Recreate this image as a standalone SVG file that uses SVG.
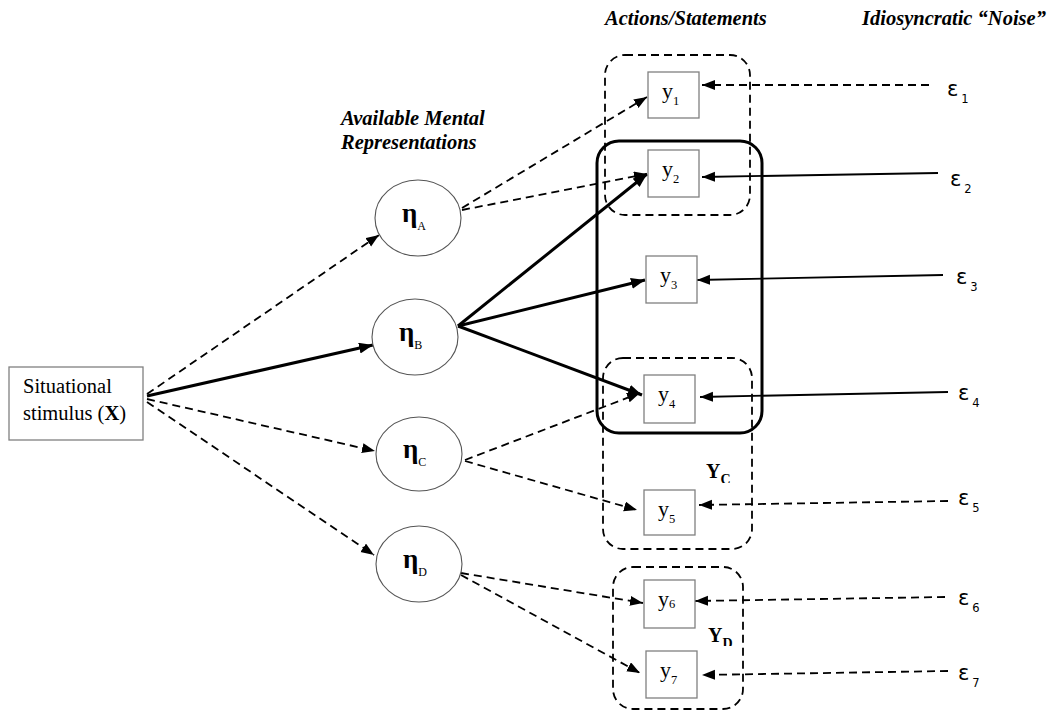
<svg xmlns="http://www.w3.org/2000/svg" width="1056" height="713" viewBox="0 0 1056 713">
  <style>
    .serif { font-family: "Liberation Serif", "Times New Roman", serif; fill: #000; }
    .head { font-family: "Liberation Serif", "Times New Roman", serif; font-weight: bold; font-style: italic; font-size: 20.5px; }
    .eta { font-family: "Liberation Serif", serif; font-weight: bold; font-size: 27px; }
    .sub { font-family: "Liberation Serif", serif; font-weight: normal; font-size: 12px; }
    .ylab { font-family: "Liberation Serif", serif; font-size: 22px; }
    .ysub { font-size: 12.5px; }
    .eps { font-family: "DejaVu Sans", "Liberation Sans", sans-serif; font-size: 21px; }
    .epsub { font-size: 11.5px; }
    .box { fill: #fff; stroke: #808080; stroke-width: 1.3; }
    .circ { fill: #fff; stroke: #555; stroke-width: 1.1; }
    .grp { fill: none; stroke: #000; stroke-width: 1.8; stroke-dasharray: 8 5; }
    .grpB { fill: none; stroke: #000; stroke-width: 3; }
    .dash { fill: none; stroke: #000; stroke-width: 1.8; stroke-dasharray: 8 5; marker-end: url(#arr); }
    .bold { fill: none; stroke: #000; stroke-width: 3; marker-end: url(#arrB); }
    .thin { fill: none; stroke: #000; stroke-width: 1.8; marker-end: url(#arr); }
  </style>
  <defs>
    <marker id="arr" markerUnits="userSpaceOnUse" markerWidth="14" markerHeight="12" refX="13" refY="5" orient="auto">
      <path d="M0,0 L13,5 L0,10 z" fill="#000"/>
    </marker>
    <marker id="arrB" markerUnits="userSpaceOnUse" markerWidth="15" markerHeight="12" refX="14" refY="5.5" orient="auto">
      <path d="M0,0 L14,5.5 L0,11 z" fill="#000"/>
    </marker>
    <clipPath id="cutC"><rect x="690" y="455" width="50" height="28"/></clipPath>
    <clipPath id="cutD"><rect x="690" y="620" width="50" height="26"/></clipPath>
  </defs>

  <rect width="1056" height="713" fill="#fff"/>

  <!-- column headings -->
  <text class="head" x="341" y="125">Available Mental</text>
  <text class="head" x="341" y="149">Representations</text>
  <text class="head" x="605" y="25">Actions/Statements</text>
  <text class="head" x="862" y="25">Idiosyncratic “Noise”</text>

  <!-- groupings of actions -->
  <g id="groups">
    <rect class="grp" x="605" y="55" width="145" height="160" rx="20"/>
    <rect class="grpB" x="597" y="141" width="165" height="292" rx="22"/>
    <rect class="grp" x="603" y="358" width="149" height="191" rx="20"/>
    <rect class="grp" x="613" y="567" width="130" height="142" rx="20"/>
    <g clip-path="url(#cutC)">
      <text class="serif" x="706" y="478" font-weight="bold" font-size="20">Y<tspan font-size="14" dy="6">C</tspan></text>
    </g>
    <g clip-path="url(#cutD)">
      <text class="serif" x="708" y="642" font-weight="bold" font-size="20">Y<tspan font-size="14" dy="6">D</tspan></text>
    </g>
  </g>

  <!-- connectors -->
  <g id="connectors">
    <!-- stimulus to representations -->
    <line class="dash" x1="147" y1="394" x2="379" y2="235"/>
    <line class="bold" x1="147" y1="396" x2="373" y2="345"/>
    <line class="dash" x1="147" y1="399" x2="375" y2="451"/>
    <line class="dash" x1="147" y1="402" x2="374" y2="555"/>
    <!-- representation A -->
    <line class="dash" x1="462" y1="208" x2="647" y2="97"/>
    <line class="dash" x1="462" y1="210" x2="647" y2="174"/>
    <!-- representation B -->
    <line class="bold" x1="458" y1="326" x2="647" y2="174"/>
    <line class="bold" x1="458" y1="326" x2="645" y2="280"/>
    <line class="bold" x1="458" y1="326" x2="642" y2="395"/>
    <!-- representation C -->
    <line class="dash" x1="465" y1="460" x2="640" y2="393"/>
    <line class="dash" x1="465" y1="461" x2="637" y2="510"/>
    <!-- representation D -->
    <line class="dash" x1="461" y1="573" x2="643" y2="603"/>
    <line class="dash" x1="461" y1="575" x2="640" y2="673"/>
    <!-- noise terms -->
    <line class="dash" x1="929" y1="85" x2="702" y2="85"/>
    <line class="thin" x1="938" y1="173" x2="702" y2="177"/>
    <line class="thin" x1="943" y1="275" x2="697" y2="280"/>
    <line class="thin" x1="948" y1="392" x2="700" y2="397"/>
    <line class="dash" x1="948" y1="501" x2="699" y2="505"/>
    <line class="dash" x1="945" y1="597" x2="695" y2="601"/>
    <line class="dash" x1="948" y1="671" x2="702" y2="675"/>
  </g>

  <!-- stimulus -->
  <g id="stimulus">
    <rect class="box" x="9" y="367" width="134" height="73"/>
    <text class="serif" x="23" y="393" font-size="20.5">Situational</text>
    <text class="serif" x="23" y="420" font-size="20.5">stimulus (<tspan font-weight="bold">X</tspan>)</text>
  </g>

  <!-- mental representations -->
  <g id="etaA">
    <ellipse class="circ" cx="418" cy="218" rx="43" ry="38"/>
    <text class="eta" x="402" y="222">η<tspan class="sub" dy="8">A</tspan></text>
  </g>
  <g id="etaB">
    <ellipse class="circ" cx="415" cy="337" rx="43" ry="38"/>
    <text class="eta" x="399" y="341">η<tspan class="sub" dy="8">B</tspan></text>
  </g>
  <g id="etaC">
    <ellipse class="circ" cx="419" cy="454" rx="43" ry="37"/>
    <text class="eta" x="403" y="458">η<tspan class="sub" dy="8">C</tspan></text>
  </g>
  <g id="etaD">
    <ellipse class="circ" cx="419" cy="564" rx="43" ry="38"/>
    <text class="eta" x="403" y="568">η<tspan class="sub" dy="8">D</tspan></text>
  </g>

  <!-- actions / statements -->
  <g id="y1">
    <rect class="box" x="648" y="72" width="51" height="46"/>
    <text class="ylab" x="662" y="98">y<tspan class="ysub" dy="7">1</tspan></text>
  </g>
  <g id="y2">
    <rect class="box" x="648" y="150" width="51" height="47"/>
    <text class="ylab" x="662" y="176">y<tspan class="ysub" dy="7">2</tspan></text>
  </g>
  <g id="y3">
    <rect class="box" x="646" y="256" width="51" height="47"/>
    <text class="ylab" x="660" y="282">y<tspan class="ysub" dy="7">3</tspan></text>
  </g>
  <g id="y4">
    <rect class="box" x="644" y="375" width="51" height="48"/>
    <text class="ylab" x="658" y="401">y<tspan class="ysub" dy="7">4</tspan></text>
  </g>
  <g id="y5">
    <rect class="box" x="644" y="490" width="51" height="45"/>
    <text class="ylab" x="658" y="516">y<tspan class="ysub" dy="7">5</tspan></text>
  </g>
  <g id="y6">
    <rect class="box" x="644" y="580" width="51" height="48"/>
    <text class="ylab" x="658" y="606">y<tspan class="ysub" dy="2">6</tspan></text>
  </g>
  <g id="y7">
    <rect class="box" x="646" y="651" width="51" height="47"/>
    <text class="ylab" x="660" y="677">y<tspan class="ysub" dy="7">7</tspan></text>
  </g>

  <!-- noise terms -->
  <g id="eps1"><text class="eps" x="947" y="96">ε<tspan class="epsub" dx="3" dy="7">1</tspan></text></g>
  <g id="eps2"><text class="eps" x="950" y="186">ε<tspan class="epsub" dx="3" dy="7">2</tspan></text></g>
  <g id="eps3"><text class="eps" x="956" y="284">ε<tspan class="epsub" dx="3" dy="7">3</tspan></text></g>
  <g id="eps4"><text class="eps" x="958" y="400">ε<tspan class="epsub" dx="3" dy="7">4</tspan></text></g>
  <g id="eps5"><text class="eps" x="958" y="505">ε<tspan class="epsub" dx="3" dy="7">5</tspan></text></g>
  <g id="eps6"><text class="eps" x="958" y="605">ε<tspan class="epsub" dx="3" dy="7">6</tspan></text></g>
  <g id="eps7"><text class="eps" x="958" y="680">ε<tspan class="epsub" dx="3" dy="7">7</tspan></text></g>
</svg>
